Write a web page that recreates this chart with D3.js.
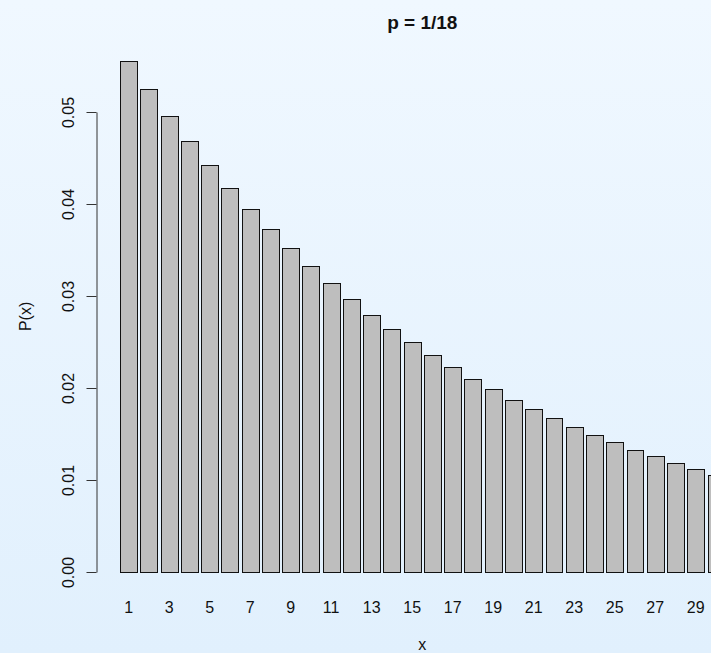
<!DOCTYPE html>
<html>
<head>
<meta charset="utf-8">
<script src="https://cdn.jsdelivr.net/npm/d3@7"></script>
<style>
  html, body { margin: 0; padding: 0; }
  body { width: 711px; height: 653px; overflow: hidden; }
  svg { display: block; font-family: "Liberation Sans", Arial, sans-serif; }
</style>
</head>
<body>
<div id="chart"></div>
<script>
// values (x = 1..30)
const xs = d3.range(1, 31);
const probs = [
  0.05556, 0.05247, 0.04955, 0.04680, 0.04420, 0.04174, 0.03942, 0.03723, 0.03517, 0.03321,
  0.03137, 0.02962, 0.02798, 0.02642, 0.02496, 0.02357, 0.02226, 0.02102, 0.01986, 0.01875,
  0.01771, 0.01673, 0.01580, 0.01492, 0.01409, 0.01331, 0.01257, 0.01187, 0.01121, 0.01059
];
const yTicks = [0, 0.01, 0.02, 0.03, 0.04, 0.05];
const xLabels = xs.filter(d => d % 2 === 1);
const title = 'p = 1/18';

const width = 711, height = 653;

const svg = d3.select('#chart').append('svg')
  .attr('width', width)
  .attr('height', height);

// soft blue background
const grad = svg.append('defs').append('linearGradient')
  .attr('id', 'bg').attr('x1', 0).attr('y1', 0).attr('x2', 0).attr('y2', 1);
grad.append('stop').attr('offset', '0%').attr('stop-color', '#f0f8ff');
grad.append('stop').attr('offset', '100%').attr('stop-color', '#e1f0fd');
svg.append('rect').attr('width', width).attr('height', height).attr('fill', 'url(#bg)');

// barplot user coords: bar i spans [0.2 + 1.2i, 1.2 + 1.2i]
const x = d3.scaleLinear().domain([-1.232, 37.432]).range([96, 748.6]);
const y = d3.scaleLinear().domain([0, 0.05]).range([572, 112]);
const left = i => 0.2 + 1.2 * i;

svg.append('g')
  .selectAll('rect')
  .data(probs)
  .join('rect')
  .attr('x', (d, i) => Math.round(x(left(i))) + 0.5)
  .attr('y', d => Math.round(y(d)) + 0.5)
  .attr('width', (d, i) => Math.round(x(left(i) + 1)) - Math.round(x(left(i))))
  .attr('height', d => Math.round(y(0)) - Math.round(y(d)))
  .attr('fill', '#bebebe')
  .attr('stroke', '#111')
  .attr('stroke-width', 1);

// x labels (no axis line, like R barplot)
svg.append('g')
  .selectAll('text')
  .data(xLabels)
  .join('text')
  .attr('x', d => x(left(d - 1) + 0.5))
  .attr('y', 613)
  .attr('text-anchor', 'middle')
  .attr('font-size', 16)
  .attr('fill', '#111')
  .text(d => d);

// y axis
const yAxis = svg.append('g')
  .attr('transform', 'translate(96.5,0)')
  .call(d3.axisLeft(y).tickValues(yTicks).tickFormat(d3.format('.2f')).tickSize(10).tickSizeOuter(0));
yAxis.select('.domain').attr('stroke', '#333');
yAxis.selectAll('.tick line').attr('stroke', '#333');
yAxis.selectAll('.tick text')
  .attr('font-size', 16)
  .attr('fill', '#111')
  .attr('font-family', '"Liberation Sans", Arial, sans-serif')
  .attr('x', null).attr('dy', null)
  .attr('text-anchor', 'middle')
  .attr('transform', 'translate(-23,0) rotate(-90)');

// titles
svg.append('text')
  .attr('x', (x.range()[0] + x.range()[1]) / 2)
  .attr('y', 29)
  .attr('text-anchor', 'middle')
  .attr('font-size', 19)
  .attr('font-weight', 'bold')
  .attr('fill', '#111')
  .text(title);

svg.append('text')
  .attr('x', (x.range()[0] + x.range()[1]) / 2)
  .attr('y', 650)
  .attr('text-anchor', 'middle')
  .attr('font-size', 16)
  .attr('fill', '#111')
  .text('x');

svg.append('text')
  .attr('transform', `translate(31,${(40.4 + 592.4) / 2}) rotate(-90)`)
  .attr('text-anchor', 'middle')
  .attr('font-size', 16)
  .attr('fill', '#111')
  .text('P(x)');
</script>
</body>
</html>
